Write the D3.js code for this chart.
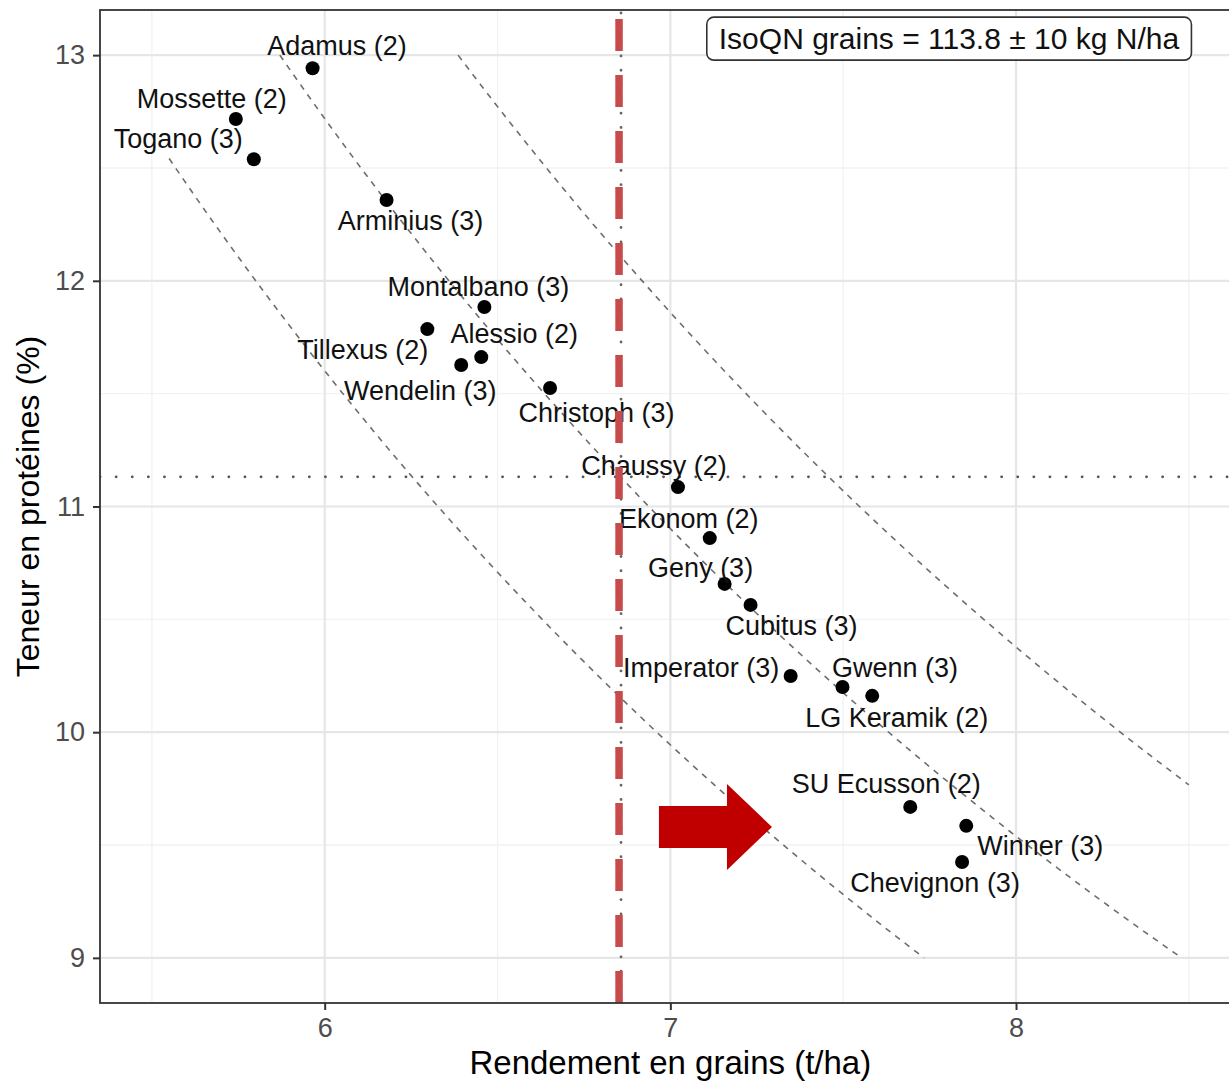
<!DOCTYPE html>
<html>
<head>
<meta charset="utf-8">
<script src="https://cdn.jsdelivr.net/npm/d3@7"></script>
<style>
  html, body { margin: 0; padding: 0; background: #ffffff; }
  svg { display: block; font-family: "Liberation Sans", Arial, Helvetica, sans-serif; }
</style>
</head>
<body>
<svg id="chart" width="1229" height="1082"></svg>
<script>
// ---------------- DATA ----------------
const varieties = ["Adamus (2)", "Mossette (2)", "Togano (3)", "Arminius (3)", "Montalbano (3)",
  "Tillexus (2)", "Alessio (2)", "Wendelin (3)", "Christoph (3)", "Chaussy (2)", "Ekonom (2)",
  "Geny (3)", "Cubitus (3)", "Imperator (3)", "Gwenn (3)", "LG Keramik (2)", "SU Ecusson (2)",
  "Winner (3)", "Chevignon (3)"];
const yieldTHa = [5.965, 5.743, 5.795, 6.179, 6.462, 6.297, 6.453, 6.395, 6.652, 7.022, 7.114,
  7.157, 7.232, 7.348, 7.498, 7.584, 7.694, 7.856, 7.844];
const proteinPct = [12.942, 12.717, 12.539, 12.358, 11.884, 11.786, 11.662, 11.627, 11.525, 11.086,
  10.860, 10.657, 10.564, 10.249, 10.200, 10.161, 9.669, 9.585, 9.425];

// Iso-quantity of grain nitrogen (kg N/ha)
const isoQN = 113.8;
const isoDelta = 10;
const isoLevels = [isoQN - isoDelta, isoQN, isoQN + isoDelta];
const nToProtein = 5.7;    // protein = N x 5.7
const dryMatter = 0.85;    // yield at 15 % moisture
const isoYieldRange = [5.55, 8.5];
const isoProteinRange = [9, 13];

// Axes
const xTicks = [6, 7, 8];
const xMinor = [5.5, 6.5, 7.5, 8.5];
const yTicks = [9, 10, 11, 12, 13];
const yMinor = [9.5, 10.5, 11.5, 12.5];
const xDomain = [5.35, 8.65];
const yDomain = [8.8, 13.2];
const xTitle = "Rendement en grains (t/ha)";
const yTitle = "Teneur en protéines (%)";
const annotationText = "IsoQN grains = " + isoQN + " ± " + isoDelta + " kg N/ha";
const annotationPos = [7.806, 13.073];

// Red arrow annotation (data units): tail x, tip x, centre y
const arrowTail = 6.967, arrowTip = 7.294, arrowY = 9.58;

// ---------------- LAYOUT (pixel) ----------------
// label offsets [dx, dy] from the point to the text centre/baseline (repel layout)
const labelOffsets = [[24.5,-13],[-24,-11],[-75.5,-11],[24,30],[-6,-11],[-64.5,30],[33,-14],[-41,35],
  [46.5,34],[-24,-12],[-21,-10],[-24,-7],[41,30],[-89.5,1],[52.5,-10],[24.5,31],[-24,-14],[74,29],[-27,30]];

const panel = { left: 100, top: 10, right: 1240.7, bottom: 1003 };

const svg = d3.select("#chart");
const x = d3.scaleLinear().domain(xDomain).range([panel.left, panel.right]);
const y = d3.scaleLinear().domain(yDomain).range([panel.bottom, panel.top]);

svg.append("defs").append("clipPath").attr("id", "clip")
  .append("rect").attr("x", panel.left).attr("y", panel.top)
  .attr("width", panel.right - panel.left).attr("height", panel.bottom - panel.top);

// background
svg.append("rect").attr("x", panel.left).attr("y", panel.top)
  .attr("width", panel.right - panel.left).attr("height", panel.bottom - panel.top)
  .attr("fill", "#ffffff");

// grid
const grid = svg.append("g").attr("clip-path", "url(#clip)");
grid.selectAll(".xmin").data(xMinor).join("line")
  .attr("x1", d => x(d)).attr("x2", d => x(d)).attr("y1", panel.top).attr("y2", panel.bottom)
  .attr("stroke", "#f2f2f2").attr("stroke-width", 1.3);
grid.selectAll(".ymin").data(yMinor).join("line")
  .attr("y1", d => y(d)).attr("y2", d => y(d)).attr("x1", panel.left).attr("x2", panel.right)
  .attr("stroke", "#f2f2f2").attr("stroke-width", 1.3);
grid.selectAll(".xmaj").data(xTicks).join("line")
  .attr("x1", d => x(d)).attr("x2", d => x(d)).attr("y1", panel.top).attr("y2", panel.bottom)
  .attr("stroke", "#e6e6e6").attr("stroke-width", 2.2);
grid.selectAll(".ymaj").data(yTicks).join("line")
  .attr("y1", d => y(d)).attr("y2", d => y(d)).attr("x1", panel.left).attr("x2", panel.right)
  .attr("stroke", "#e6e6e6").attr("stroke-width", 2.2);

const plot = svg.append("g").attr("clip-path", "url(#clip)");

// iso-quantity curves: yield * protein = QN * 5.7 / (10 * 0.85)
const line = d3.line().x(d => x(d[0])).y(d => y(d[1]));
isoLevels.forEach(q => {
  const c = q * nToProtein / (10 * dryMatter);
  const x0 = Math.max(isoYieldRange[0], c / isoProteinRange[1]);
  const x1 = Math.min(isoYieldRange[1], c / isoProteinRange[0]);
  const pts = d3.range(0, 101).map(i => { const xv = x0 + (x1 - x0) * i / 100; return [xv, c / xv]; });
  plot.append("path").attr("d", line(pts)).attr("fill", "none")
    .attr("stroke", "#6e6e6e").attr("stroke-width", 1.6).attr("stroke-dasharray", "6,6");
});

const meanYield = d3.mean(yieldTHa);
const meanProtein = d3.mean(proteinPct);

// horizontal dotted mean line
plot.append("line").attr("x1", panel.left).attr("x2", panel.right)
  .attr("y1", y(meanProtein)).attr("y2", y(meanProtein))
  .attr("stroke", "#555").attr("stroke-width", 2.8).attr("stroke-linecap", "round")
  .attr("stroke-dasharray", "0.1,16");
// vertical grey dotted mean line
plot.append("line").attr("x1", x(meanYield)).attr("x2", x(meanYield))
  .attr("y1", panel.top + 3).attr("y2", panel.bottom)
  .attr("stroke", "#666").attr("stroke-width", 2.8).attr("stroke-linecap", "round")
  .attr("stroke-dasharray", "0.1,14.2");

// points
const data = varieties.map((n, i) => ({ name: n, x: yieldTHa[i], y: proteinPct[i], off: labelOffsets[i] }));
plot.selectAll("circle").data(data).join("circle")
  .attr("cx", d => x(d.x)).attr("cy", d => y(d.y)).attr("r", 7).attr("fill", "#000");

// labels
svg.append("g").selectAll("text").data(data).join("text")
  .attr("x", d => x(d.x) + d.off[0]).attr("y", d => y(d.y) + d.off[1])
  .attr("text-anchor", "middle").attr("font-size", 27).attr("fill", "#111")
  .text(d => d.name);

// red dashed line at mean yield
svg.append("line").attr("x1", x(meanYield) - 2).attr("x2", x(meanYield) - 2)
  .attr("y1", panel.top).attr("y2", panel.bottom)
  .attr("stroke", "#c84b4b").attr("stroke-width", 7.5)
  .attr("stroke-dasharray", "32,24").attr("stroke-dashoffset", 47);

// red arrow
const ay = y(arrowY), ax0 = x(arrowTail), ax1 = x(arrowTip);
const headLen = 45, bodyH = 21, headH = 43;
svg.append("path")
  .attr("d", `M${ax0},${ay - bodyH} L${ax1 - headLen},${ay - bodyH} L${ax1 - headLen},${ay - headH} L${ax1},${ay} L${ax1 - headLen},${ay + headH} L${ax1 - headLen},${ay + bodyH} L${ax0},${ay + bodyH} Z`)
  .attr("fill", "#c00000");

// annotation label
const ann = svg.append("g");
const annText = ann.append("text").attr("x", x(annotationPos[0])).attr("y", y(annotationPos[1]))
  .attr("text-anchor", "middle").attr("dominant-baseline", "central")
  .attr("font-size", 30).attr("fill", "#111").text(annotationText);
const bb = annText.node().getBBox();
ann.insert("rect", "text").attr("x", bb.x - 12).attr("y", y(annotationPos[1]) - 21.5)
  .attr("width", bb.width + 24).attr("height", 43).attr("rx", 7)
  .attr("fill", "#fff").attr("stroke", "#333").attr("stroke-width", 1.6);

// panel border
svg.append("rect").attr("x", panel.left).attr("y", panel.top)
  .attr("width", panel.right - panel.left).attr("height", panel.bottom - panel.top)
  .attr("fill", "none").attr("stroke", "#333").attr("stroke-width", 1.8);

// axes
const xAxis = svg.append("g").attr("transform", `translate(0,${panel.bottom})`)
  .call(d3.axisBottom(x).tickValues(xTicks).tickSize(7).tickPadding(8).tickFormat(d3.format("d")));
const yAxis = svg.append("g").attr("transform", `translate(${panel.left},0)`)
  .call(d3.axisLeft(y).tickValues(yTicks).tickSize(7).tickPadding(8).tickFormat(d3.format("d")));
[xAxis, yAxis].forEach(a => {
  a.select(".domain").remove();
  a.selectAll(".tick line").attr("stroke", "#333").attr("stroke-width", 2);
  a.selectAll(".tick text").attr("fill", "#4d4d4d").attr("font-size", 27)
    .attr("font-family", "Liberation Sans, Arial, sans-serif");
});

// titles
svg.append("text").attr("x", (panel.left + panel.right) / 2).attr("y", 1074)
  .attr("text-anchor", "middle").attr("font-size", 33).attr("fill", "#000").text(xTitle);
svg.append("text").attr("transform", `translate(39,${(panel.top + panel.bottom) / 2}) rotate(-90)`)
  .attr("text-anchor", "middle").attr("font-size", 32).attr("fill", "#000").text(yTitle);
</script>
</body>
</html>
